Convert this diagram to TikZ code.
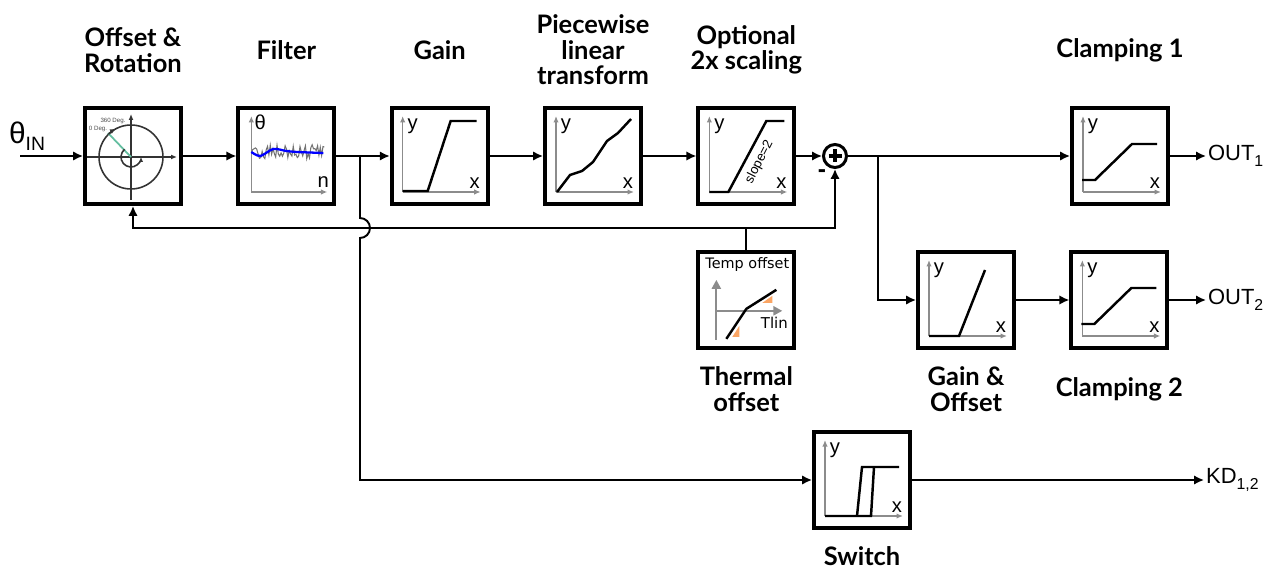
\documentclass[tikz,border=0pt]{standalone}
\usepackage{fontspec}
\setmainfont{Liberation Sans}
\newfontfamily\latofont{Lato}
\newfontfamily\dejafont{DejaVu Sans}
\usetikzlibrary{positioning,arrows.meta}
\definecolor{needle}{RGB}{100,190,160}
\definecolor{wedge}{RGB}{250,165,100}

\begin{document}
\begin{tikzpicture}[x=0.02cm,y=-0.02cm,
  blk/.style={draw,line width=2.2pt,minimum size=1.92cm,inner sep=0pt},
  lbl/.style={font=\latofont\bfseries\fontsize{14.5}{14.5}\selectfont,align=center,inner sep=0pt},
  sumj/.style={circle,draw,line width=1.7pt,minimum size=0.46cm,inner sep=0pt},
  conn/.style={line width=1.1pt,-{Latex[length=2mm,width=1.9mm]}},
  line/.style={line width=1.1pt},
  ax/.style={black!45,line width=0.9pt,-{Latex[length=1.3mm,width=1.1mm]}},
  tax/.style={black!45,line width=1.3pt,-{Triangle[length=1.8mm,width=1.8mm]}},
  crv/.style={line width=1.4pt},
  axl/.style={font=\fontsize{11.5}{11.5}\selectfont,inner sep=0pt},
  outl/.style={font=\fontsize{12.5}{12.5}\selectfont,anchor=west,inner sep=1pt}
]
\useasboundingbox (0,0) rectangle (1277,567);
\coordinate (toprow) at (0,50);
\coordinate (botrow) at (0,389);
\coordinate (fbrow) at (0,228);

% blocks
\node[blk] (rot) at (133,156) {};
\node[blk,right=1.07cm of rot] (filt) {};
\node[blk,right=1.07cm of filt] (gain) {};
\node[blk,right=1.07cm of gain] (pw) {};
\node[blk,right=1.07cm of pw] (opt) {};
\node[sumj] (sumj) at (835,156) {};
\node[blk] (clamp1) at (1120,156) {};
\node[blk,below=0.88cm of opt] (therm) {};
\node[blk] (goff) at (966,300) {};
\node[blk,right=1.07cm of goff] (clamp2) {};
\node[blk] (sw) at (862,480) {};

% block titles
\node[lbl] (rotlbl) at (rot |- toprow) {Offset \&\\Rotation};
\node[lbl] (filtlbl) at (filt |- toprow) {Filter};
\node[lbl] (gainlbl) at (gain |- toprow) {Gain};
\node[lbl] (pwlbl) at (pw |- toprow) {Piecewise\\linear\\transform};
\node[lbl] (optlbl) at (opt |- toprow) {Optional\\2x scaling};
\node[lbl] (clamp1lbl) at (clamp1 |- toprow) {Clamping 1};
\node[lbl] (thermlbl) at (therm |- botrow) {Thermal\\offset};
\node[lbl] (gofflbl) at (goff |- botrow) {Gain \&\\Offset};
\node[lbl] (clamp2lbl) at (clamp2 |- botrow) {Clamping 2};
\node[lbl] (swlbl) at (862,556) {Switch};

% inputs and outputs
\coordinate (in) at (20,156);
\node[font=\fontsize{17}{17}\selectfont,inner sep=0pt] (thin) at (27,136) {θ\raisebox{-0.22em}{\fontsize{11}{11}\selectfont IN}};
\node[outl] (out1) at (1206,156) {OUT\raisebox{-0.3em}{\fontsize{9}{9}\selectfont 1}};
\node[outl] (out2) at (1206,300) {OUT\raisebox{-0.3em}{\fontsize{9}{9}\selectfont 2}};
\node[outl] (kd) at (1204,480) {KD\raisebox{-0.3em}{\fontsize{9}{9}\selectfont 1,2}};
\node[font=\bfseries\fontsize{14}{14}\selectfont,inner sep=0pt] (minus) at (822,174) {-};

% connectors
\coordinate (br1) at (360,156);
\coordinate (br2) at (878,156);
\coordinate (tj) at (therm.north |- fbrow);
\draw[conn] (in) -- (rot);
\draw[conn] (rot) -- (filt);
\draw[conn] (filt) -- (gain);
\draw[conn] (gain) -- (pw);
\draw[conn] (pw) -- (opt);
\draw[conn] (opt) -- (sumj);
\draw[conn] (sumj) -- (clamp1);
\draw[conn] (br2) |- (goff);
\draw[conn] (goff) -- (clamp2);
\draw[conn] (clamp1) -- (out1);
\draw[conn] (clamp2) -- (out2);
\draw[conn] (sw) -- (kd);
\draw[line] (therm) -- (tj);
\draw[conn] (tj) -| (sumj);
\draw[conn] (tj) -| (rot);
\draw[conn] (br1) -- ++(0,62) arc[start angle=-90,end angle=90,radius=10] |- (sw);

% sum junction
\begin{scope}[shift={(sumj.center)}]
  \draw[line width=2pt] (-6.5,0) -- (6.5,0) (0,-6.5) -- (0,6.5);
\end{scope}

% x/y plots
\foreach \b in {gain,pw,opt,clamp1,goff,clamp2,sw}{
  \begin{scope}[shift={(\b.center)}]
    \draw[ax] (-37,36) -- (-37,-40);
    \draw[ax] (-37,36) -- (41,36);
    \node[axl] at (-27,-30) {y};
    \node[axl] at (35,27) {x};
  \end{scope}
}
\begin{scope}[shift={(gain.center)}]
  \draw[crv] (-37,35) -- (-12,35) -- (11,-35) -- (37,-35);
\end{scope}
\begin{scope}[shift={(pw.center)}]
  \draw[crv] (-36,36) -- (-23,19) -- (-11,15) -- (0,6) -- (14,-15) -- (25,-23) -- (38,-37);
\end{scope}
\begin{scope}[shift={(opt.center)}]
  \draw[crv] (-37,36) -- (-18,36) -- (20,-35) -- (38,-35);
  \node[font=\fontsize{7.5}{7.5}\selectfont,rotate=63,inner sep=0pt] at (13,6) {slope=2};
\end{scope}
\foreach \b in {clamp1,clamp2}{
  \begin{scope}[shift={(\b.center)}]
    \draw[crv] (-38,24) -- (-25,24) -- (12,-12) -- (37,-12);
  \end{scope}
}
\begin{scope}[shift={(goff.center)}]
  \draw[crv] (-37,36) -- (-7,36) -- (19,-30);
\end{scope}
\begin{scope}[shift={(sw.center)}]
  \draw[crv] (-37,36) -- (9,36) -- (12,-13);
  \draw[crv] (-5,36) -- (0,-13) -- (37,-13);
\end{scope}

% filter plot
\begin{scope}[shift={(filt.center)}]
  \draw[ax] (-35,36) -- (-35,-40);
  \draw[ax] (-35,36) -- (41,36);
  \node[axl] at (-26,-34) {θ};
  \node[axl] at (37,26) {n};
  \pgfmathsetseed{11}
  \draw[black!55,line width=0.6pt] plot[domain=-35:38,samples=55] (\x,{-4+8*rand});
  \draw[blue,line width=1.3pt] plot[smooth] coordinates {(-35,-4) (-26,0) (-13,-7) (0,-5) (11,-4) (37,-3)};
\end{scope}

% offset & rotation sketch
\begin{scope}[shift={(rot.center)}]
  \draw[black!80,line width=0.9pt,-{Latex[length=1.2mm,width=1mm]}] (-46,1) -- (44,1);
  \draw[black!80,line width=0.9pt,-{Latex[length=1.2mm,width=1mm]}] (-2,44) -- (-2,-42);
  \draw[black!80,line width=0.9pt] (-2,1) circle[radius=32];
  \draw[needle,line width=1pt] (-2,1) -- (-25,-23);
  \draw[black!80,line width=0.9pt,-{Latex[length=1.2mm,width=1mm]}] (-2,1) ++(225:32) arc[start angle=225,end angle=242,radius=32];
  \draw[black!80,line width=0.9pt,-{Latex[length=1mm,width=0.9mm]}] (-2,1) ++(230:10) arc[start angle=230,end angle=0,radius=10];
  \node[black!70,font=\fontsize{3.5}{3.5}\selectfont,inner sep=0pt] at (-20,-35) {360 Deg.};
  \node[black!70,font=\fontsize{3.5}{3.5}\selectfont,inner sep=0pt] at (-35,-27) {0 Deg.};
\end{scope}

% thermal offset plot
\begin{scope}[shift={(therm.center)}]
  \node[font=\dejafont\fontsize{8.2}{8.2}\selectfont,inner sep=0pt] at (1,-35) {Temp offset};
  \draw[tax] (-30,40) -- (-30,-20);
  \draw[tax] (-30,11) -- (36,11);
  \node[font=\dejafont\fontsize{8.5}{8.5}\selectfont,inner sep=0pt] at (28,23) {Tlin};
  \fill[wedge] (-14,37) -- (-7,37) -- (-7,26) -- cycle;
  \fill[wedge] (16,3) -- (26,3) -- (26,-4) -- cycle;
  \draw[crv] (-20,39) -- (0,9) -- (30,-10);
\end{scope}
\end{tikzpicture}
\end{document}
